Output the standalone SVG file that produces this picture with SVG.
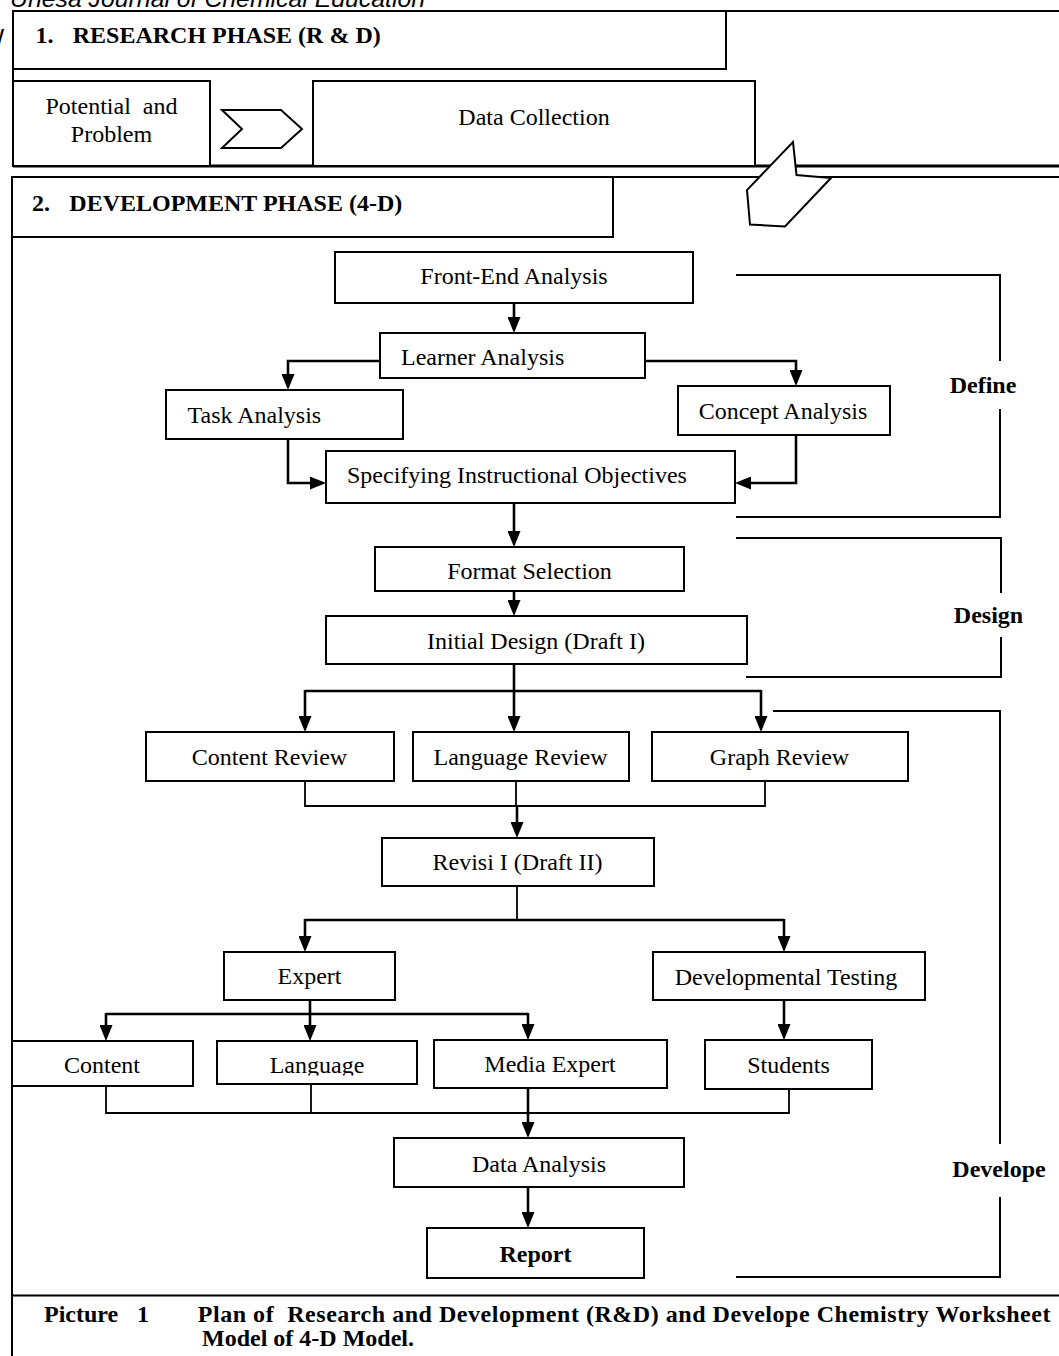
<svg xmlns="http://www.w3.org/2000/svg" width="1059" height="1356" viewBox="0 0 1059 1356">
<defs>
<style>
.box{fill:#fff;stroke:#000;stroke-width:2}
.t{font-family:"Liberation Serif","Times New Roman",serif;font-size:24px;fill:#000}
.c{text-anchor:middle}
.b{font-weight:bold}
.ln{fill:none;stroke:#000;stroke-width:2}
.ar{fill:none;stroke:#000;stroke-width:2.6;marker-end:url(#ah)}
.th{fill:none;stroke:#000;stroke-width:2.6}
.jn{fill:none;stroke:#000;stroke-width:1.8}
</style>
<marker id="ah" viewBox="0 0 16 13" refX="12" refY="6.5" markerWidth="16" markerHeight="13" markerUnits="userSpaceOnUse" orient="auto">
<path d="M0,0 L16,6.5 L0,13 Z" fill="#000"/>
</marker>
<clipPath id="langclip"><rect x="217" y="1041" width="200" height="34.5"/></clipPath>
</defs>
<rect x="0" y="0" width="1059" height="1356" fill="#fff"/>
<text x="10" y="7" textLength="415" lengthAdjust="spacingAndGlyphs" style="font-family:'Liberation Sans',Arial,sans-serif;font-size:24px;font-style:italic">Unesa Journal of Chemical Education</text>
<text x="-18.5" y="46" style="font-family:'Liberation Sans',Arial,sans-serif;font-size:24px">W</text>

<g id="research-frame">
<rect x="13" y="11" width="1060" height="155" fill="#fff" stroke="none"/>
<path class="ln" d="M1059 11 H13 V166"/>
<path class="ln" d="M13 166 H1059" style="stroke-width:3"/>
</g>
<g id="research-header">
<rect class="box" x="13" y="11" width="713" height="58"/>
<text class="t b" x="35.5" y="43">1.</text>
<text class="t b" x="72.7" y="43">RESEARCH PHASE (R &amp; D)</text>
</g>
<g id="potential">
<rect class="box" x="13" y="81" width="197" height="85"/>
<text class="t c" x="111.5" y="114" xml:space="preserve">Potential  and</text>
<text class="t c" x="111.5" y="142">Problem</text>
</g>
<g id="chevron">
<polygon points="222,110 281,110 302,129 281,148 222,148 242,129" fill="#fff" stroke="#000" stroke-width="2"/>
</g>
<g id="data-collection">
<rect class="box" x="313" y="81" width="442" height="85"/>
<text class="t c" x="534" y="125">Data Collection</text>
</g>

<g id="dev-frame">
<path class="ln" d="M1059 177 H12 V1356"/>
<path class="ln" d="M12 1295.5 H1059"/>
</g>
<g id="dev-header">
<rect class="box" x="12" y="177" width="601" height="60"/>
<text class="t b" x="32" y="211">2.</text>
<text class="t b" x="69.3" y="211">DEVELOPMENT PHASE (4-D)</text>
</g>

<g id="connectors">
<path class="ar" d="M514 303 V329"/>
<path class="ar" d="M380 361 H288 V386"/>
<path class="ar" d="M645 361 H796 V382"/>
<path class="ar" d="M288 439 V483 H322"/>
<path class="ar" d="M796 435 V483 H739"/>
<path class="ar" d="M514 503 V543"/>
<path class="ar" d="M514 591 V612"/>
<path class="th" d="M305 691 H761"/>
<path class="ar" d="M514 664 V728"/>
<path class="ar" d="M305 690 V728"/>
<path class="ar" d="M761 690 V728"/>
<path class="jn" d="M305 781 V806 H765 V781"/>
<path class="jn" d="M516 781 V806"/>
<path class="ar" d="M517 806 V834"/>
<path class="jn" d="M517 886 V920"/>
<path class="th" d="M305 920 H784"/>
<path class="ar" d="M305 919 V948"/>
<path class="ar" d="M784 919 V948"/>
<path class="th" d="M310 1000 V1014"/>
<path class="th" d="M106 1014 H528"/>
<path class="ar" d="M106 1013 V1037"/>
<path class="ar" d="M310 1013 V1037"/>
<path class="ar" d="M528 1013 V1036"/>
<path class="ar" d="M784 1000 V1036"/>
<path class="jn" d="M106 1086 V1113 H789 V1089"/>
<path class="jn" d="M311 1084 V1113"/>
<path class="ar" d="M528 1088 V1134"/>
<path class="ar" d="M528 1187 V1224"/>
</g>

<g id="brackets">
<path class="ln" d="M736 275 H1000 V361"/>
<path class="ln" d="M1000 409 V517 H736"/>
<path class="ln" d="M736 538 H1001 V593"/>
<path class="ln" d="M1001 637 V677 H746"/>
<path class="ln" d="M773 711 H1000 V1144"/>
<path class="ln" d="M1000 1197 V1277 H736"/>
</g>
<g id="define-label"><text class="t b c" x="983" y="393">Define</text></g>
<g id="design-label"><text class="t b c" x="988.5" y="623">Design</text></g>
<g id="develope-label"><text class="t b c" x="999" y="1176.5">Develope</text></g>

<g id="front-end">
<rect class="box" x="335" y="252" width="358" height="51"/>
<text class="t c" x="514" y="284">Front-End Analysis</text>
</g>
<g id="learner">
<rect class="box" x="380" y="333" width="265" height="45"/>
<text class="t" x="401" y="365">Learner Analysis</text>
</g>
<g id="task">
<rect class="box" x="166" y="390" width="237" height="49"/>
<text class="t" x="187.5" y="423">Task Analysis</text>
</g>
<g id="concept">
<rect class="box" x="678" y="386" width="212" height="49"/>
<text class="t c" x="783" y="419">Concept Analysis</text>
</g>
<g id="specifying">
<rect class="box" x="326" y="451" width="409" height="52"/>
<text class="t" x="347" y="483">Specifying Instructional Objectives</text>
</g>
<g id="format">
<rect class="box" x="375" y="547" width="309" height="44"/>
<text class="t c" x="529.5" y="579">Format Selection</text>
</g>
<g id="initial">
<rect class="box" x="326" y="616" width="421" height="48"/>
<text class="t c" x="536" y="649">Initial Design (Draft I)</text>
</g>
<g id="content-review">
<rect class="box" x="146" y="732" width="248" height="49"/>
<text class="t c" x="269.5" y="765">Content Review</text>
</g>
<g id="language-review">
<rect class="box" x="413" y="732" width="216" height="49"/>
<text class="t c" x="520.5" y="765">Language Review</text>
</g>
<g id="graph-review">
<rect class="box" x="652" y="732" width="256" height="49"/>
<text class="t c" x="779.5" y="765">Graph Review</text>
</g>
<g id="revisi">
<rect class="box" x="382" y="838" width="272" height="48"/>
<text class="t c" x="517.5" y="870">Revisi I (Draft II)</text>
</g>
<g id="expert">
<rect class="box" x="224" y="952" width="171" height="48"/>
<text class="t c" x="309.5" y="984">Expert</text>
</g>
<g id="dev-testing">
<rect class="box" x="653" y="952" width="272" height="48"/>
<text class="t c" x="786" y="985">Developmental Testing</text>
</g>
<g id="content">
<rect class="box" x="12" y="1041" width="181" height="45"/>
<text class="t c" x="102" y="1073">Content</text>
</g>
<g id="language">
<rect class="box" x="217" y="1041" width="200" height="43"/>
<text class="t c" x="317" y="1073" clip-path="url(#langclip)">Language</text>
</g>
<g id="media-expert">
<rect class="box" x="434" y="1040" width="233" height="48"/>
<text class="t c" x="550" y="1071.5">Media Expert</text>
</g>
<g id="students">
<rect class="box" x="705" y="1040" width="167" height="49"/>
<text class="t c" x="788.5" y="1073">Students</text>
</g>
<g id="data-analysis">
<rect class="box" x="394" y="1138" width="290" height="49"/>
<text class="t c" x="539" y="1171.5">Data Analysis</text>
</g>
<g id="report">
<rect class="box" x="427" y="1228" width="217" height="50"/>
<text class="t b c" x="535.5" y="1261.5">Report</text>
</g>

<g id="pentagon-arrow">
<polygon points="793,142 796.5,175 831,178 785,226.5 750,224.5 747,190" fill="#fff" stroke="#000" stroke-width="2"/>
</g>

<g id="caption">
<text class="t b" x="44" y="1321.5">Picture</text>
<text class="t b" x="137" y="1321.5">1</text>
<text class="t b" x="197.8" y="1321.5" textLength="852.6" lengthAdjust="spacing" xml:space="preserve">Plan of  Research and Development (R&amp;D) and Develope Chemistry Worksheet</text>
<text class="t b" x="202" y="1346">Model of 4-D Model.</text>
</g>
</svg>
